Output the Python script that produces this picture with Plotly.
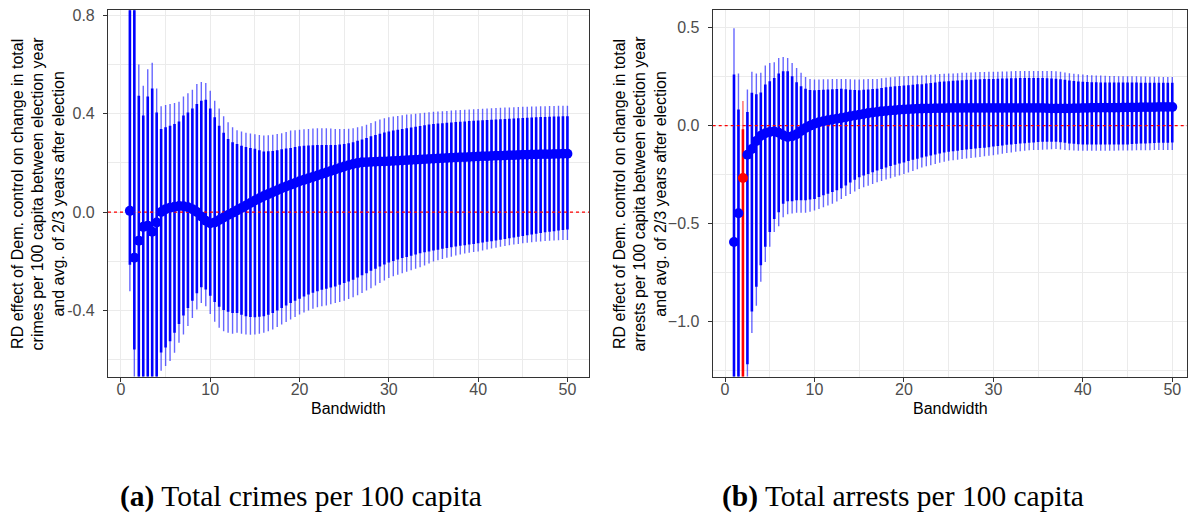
import plotly.graph_objects as go

# ---------------- data ----------------
bandwidth = [1.0, 1.5, 2.0, 2.5, 3.0, 3.5, 4.0, 4.5, 5.0, 5.5, 6.0, 6.5, 7.0, 7.5, 8.0, 8.5, 9.0, 9.5, 10.0, 10.5,
             11.0, 11.5, 12.0, 12.5, 13.0, 13.5, 14.0, 14.5, 15.0, 15.5, 16.0, 16.5, 17.0, 17.5, 18.0, 18.5, 19.0, 19.5, 20.0, 20.5,
             21.0, 21.5, 22.0, 22.5, 23.0, 23.5, 24.0, 24.5, 25.0, 25.5, 26.0, 26.5, 27.0, 27.5, 28.0, 28.5, 29.0, 29.5, 30.0, 30.5,
             31.0, 31.5, 32.0, 32.5, 33.0, 33.5, 34.0, 34.5, 35.0, 35.5, 36.0, 36.5, 37.0, 37.5, 38.0, 38.5, 39.0, 39.5, 40.0, 40.5,
             41.0, 41.5, 42.0, 42.5, 43.0, 43.5, 44.0, 44.5, 45.0, 45.5, 46.0, 46.5, 47.0, 47.5, 48.0, 48.5, 49.0, 49.5, 50.0]

# Panel (a): total crimes per 100 capita
est_a = [0.005, -0.185, -0.116, -0.06, -0.055, -0.08, -0.042, 0.0, 0.012, 0.018, 0.022, 0.025, 0.024, 0.02, 0.012, 0.0, -0.018, -0.035, -0.045, -0.042,
         -0.032, -0.022, -0.012, -0.003, 0.007, 0.017, 0.027, 0.037, 0.047, 0.056, 0.065, 0.073, 0.081, 0.089, 0.097, 0.104, 0.111, 0.118, 0.125, 0.131,
         0.137, 0.143, 0.149, 0.155, 0.161, 0.167, 0.173, 0.179, 0.185, 0.19, 0.195, 0.199, 0.202, 0.203, 0.204, 0.205, 0.206, 0.206, 0.207, 0.208,
         0.209, 0.21, 0.211, 0.212, 0.213, 0.214, 0.215, 0.216, 0.217, 0.218, 0.219, 0.22, 0.221, 0.222, 0.223, 0.223, 0.224, 0.225, 0.226, 0.227,
         0.227, 0.228, 0.229, 0.229, 0.23, 0.231, 0.231, 0.232, 0.233, 0.233, 0.234, 0.234, 0.235, 0.235, 0.235, 0.236, 0.236, 0.237, 0.237]
hi95_a = [1.2, 1.2, 0.6, 0.513, 0.58, 0.607, 0.502, 0.43, 0.435, 0.439, 0.443, 0.448, 0.47, 0.483, 0.497, 0.52, 0.529, 0.524, 0.493, 0.452,
          0.421, 0.389, 0.365, 0.345, 0.332, 0.327, 0.322, 0.319, 0.316, 0.313, 0.311, 0.312, 0.314, 0.317, 0.32, 0.325, 0.331, 0.333, 0.335, 0.337,
          0.338, 0.34, 0.341, 0.341, 0.341, 0.34, 0.338, 0.338, 0.338, 0.339, 0.341, 0.345, 0.349, 0.355, 0.362, 0.369, 0.376, 0.381, 0.385, 0.388,
          0.39, 0.393, 0.396, 0.398, 0.4, 0.402, 0.404, 0.406, 0.408, 0.409, 0.41, 0.411, 0.413, 0.414, 0.415, 0.416, 0.417, 0.418, 0.419, 0.42,
          0.421, 0.422, 0.423, 0.424, 0.425, 0.425, 0.426, 0.427, 0.428, 0.428, 0.429, 0.429, 0.43, 0.43, 0.431, 0.431, 0.432, 0.432, 0.432]
hi90_a = [1.1, 1.1, 0.473, 0.392, 0.47, 0.502, 0.405, 0.338, 0.345, 0.351, 0.358, 0.368, 0.392, 0.405, 0.421, 0.439, 0.452, 0.456, 0.421, 0.385,
          0.351, 0.322, 0.297, 0.284, 0.277, 0.27, 0.264, 0.26, 0.257, 0.251, 0.246, 0.247, 0.248, 0.251, 0.255, 0.258, 0.26, 0.264, 0.268, 0.27,
          0.271, 0.272, 0.273, 0.273, 0.273, 0.273, 0.273, 0.275, 0.277, 0.28, 0.284, 0.29, 0.295, 0.301, 0.308, 0.313, 0.318, 0.323, 0.327, 0.331,
          0.335, 0.338, 0.341, 0.344, 0.347, 0.35, 0.353, 0.356, 0.358, 0.36, 0.361, 0.363, 0.364, 0.366, 0.367, 0.368, 0.37, 0.371, 0.372, 0.373,
          0.374, 0.375, 0.376, 0.377, 0.378, 0.379, 0.38, 0.381, 0.382, 0.383, 0.384, 0.385, 0.386, 0.386, 0.387, 0.388, 0.388, 0.389, 0.389]
lo90_a = [-0.214, -0.558, -0.8, -0.8, -0.8, -0.75, -0.7, -0.57, -0.55, -0.525, -0.49, -0.455, -0.42, -0.39, -0.36, -0.33, -0.305, -0.315, -0.34, -0.365,
          -0.385, -0.398, -0.405, -0.41, -0.41, -0.417, -0.423, -0.426, -0.427, -0.425, -0.423, -0.417, -0.41, -0.4, -0.39, -0.38, -0.369, -0.36, -0.352, -0.343,
          -0.335, -0.328, -0.322, -0.316, -0.311, -0.306, -0.302, -0.295, -0.288, -0.282, -0.275, -0.266, -0.257, -0.248, -0.238, -0.23, -0.221, -0.213, -0.205, -0.199,
          -0.193, -0.187, -0.182, -0.177, -0.172, -0.167, -0.163, -0.16, -0.156, -0.153, -0.149, -0.146, -0.143, -0.14, -0.137, -0.135, -0.132, -0.13, -0.127, -0.124,
          -0.121, -0.118, -0.115, -0.112, -0.109, -0.106, -0.103, -0.1, -0.097, -0.094, -0.091, -0.088, -0.085, -0.082, -0.08, -0.078, -0.075, -0.073, -0.071]
lo95_a = [-0.322, -0.9, -0.9, -0.9, -0.9, -0.9, -0.8, -0.645, -0.625, -0.605, -0.571, -0.531, -0.497, -0.463, -0.43, -0.396, -0.369, -0.383, -0.414, -0.446,
          -0.47, -0.484, -0.49, -0.494, -0.49, -0.494, -0.497, -0.498, -0.497, -0.494, -0.49, -0.484, -0.477, -0.467, -0.457, -0.447, -0.436, -0.426, -0.416, -0.408,
          -0.4, -0.393, -0.387, -0.383, -0.379, -0.374, -0.369, -0.365, -0.36, -0.353, -0.346, -0.338, -0.329, -0.319, -0.309, -0.298, -0.288, -0.278, -0.268, -0.261,
          -0.255, -0.248, -0.242, -0.236, -0.23, -0.224, -0.217, -0.209, -0.201, -0.196, -0.191, -0.186, -0.181, -0.176, -0.172, -0.168, -0.165, -0.162, -0.16, -0.156,
          -0.152, -0.148, -0.145, -0.141, -0.138, -0.135, -0.132, -0.13, -0.127, -0.125, -0.123, -0.121, -0.119, -0.117, -0.116, -0.115, -0.114, -0.113, -0.113]

# Panel (b): total arrests per 100 capita
est_b = [-0.595, -0.448, -0.268, -0.149, -0.12, -0.078, -0.052, -0.039, -0.032, -0.03, -0.036, -0.049, -0.058, -0.054, -0.044, -0.027, -0.012, 0.0, 0.01, 0.017,
         0.022, 0.027, 0.031, 0.035, 0.039, 0.043, 0.048, 0.052, 0.056, 0.06, 0.064, 0.067, 0.07, 0.073, 0.075, 0.077, 0.079, 0.081, 0.083, 0.084,
         0.085, 0.086, 0.087, 0.088, 0.088, 0.089, 0.089, 0.089, 0.09, 0.09, 0.09, 0.09, 0.09, 0.09, 0.09, 0.09, 0.09, 0.09, 0.09, 0.09,
         0.09, 0.09, 0.09, 0.09, 0.09, 0.09, 0.09, 0.09, 0.09, 0.09, 0.089, 0.088, 0.088, 0.088, 0.088, 0.088, 0.089, 0.089, 0.09, 0.09,
         0.091, 0.091, 0.091, 0.092, 0.092, 0.092, 0.092, 0.093, 0.093, 0.093, 0.093, 0.094, 0.094, 0.094, 0.094, 0.095, 0.095, 0.095, 0.095]
hi95_b = [0.498, 0.266, 0.126, 0.185, 0.275, 0.266, 0.27, 0.307, 0.32, 0.324, 0.346, 0.351, 0.346, 0.32, 0.295, 0.27, 0.249, 0.239, 0.236, 0.236,
          0.237, 0.237, 0.238, 0.238, 0.239, 0.238, 0.237, 0.236, 0.236, 0.237, 0.238, 0.239, 0.239, 0.242, 0.245, 0.248, 0.25, 0.252, 0.253, 0.254,
          0.255, 0.256, 0.256, 0.258, 0.26, 0.262, 0.264, 0.265, 0.266, 0.267, 0.268, 0.27, 0.271, 0.272, 0.273, 0.274, 0.274, 0.275, 0.275, 0.276,
          0.277, 0.277, 0.278, 0.279, 0.279, 0.28, 0.28, 0.28, 0.28, 0.28, 0.28, 0.279, 0.278, 0.275, 0.272, 0.268, 0.265, 0.263, 0.261, 0.259,
          0.258, 0.257, 0.256, 0.255, 0.254, 0.254, 0.253, 0.253, 0.253, 0.252, 0.252, 0.251, 0.251, 0.25, 0.25, 0.25, 0.249, 0.249, 0.249]
hi90_b = [0.261, 0.083, -0.019, 0.07, 0.168, 0.16, 0.17, 0.21, 0.227, 0.244, 0.266, 0.278, 0.278, 0.253, 0.222, 0.202, 0.188, 0.182, 0.181, 0.182,
          0.183, 0.185, 0.186, 0.187, 0.188, 0.186, 0.184, 0.182, 0.181, 0.183, 0.185, 0.187, 0.188, 0.192, 0.196, 0.199, 0.201, 0.203, 0.205, 0.207,
          0.209, 0.211, 0.212, 0.215, 0.218, 0.221, 0.224, 0.226, 0.227, 0.229, 0.231, 0.232, 0.234, 0.235, 0.236, 0.237, 0.238, 0.238, 0.239, 0.24,
          0.241, 0.241, 0.242, 0.242, 0.243, 0.243, 0.243, 0.243, 0.243, 0.243, 0.242, 0.241, 0.24, 0.237, 0.234, 0.231, 0.228, 0.226, 0.224, 0.223,
          0.222, 0.222, 0.221, 0.221, 0.221, 0.22, 0.22, 0.22, 0.22, 0.22, 0.22, 0.219, 0.219, 0.219, 0.219, 0.219, 0.219, 0.219, 0.219]
lo90_b = [-2.0, -2.0, -2.0, -1.22, -0.951, -0.824, -0.714, -0.62, -0.544, -0.477, -0.443, -0.4, -0.387, -0.387, -0.382, -0.382, -0.382, -0.378, -0.375, -0.365,
          -0.356, -0.348, -0.34, -0.33, -0.32, -0.306, -0.291, -0.277, -0.264, -0.255, -0.247, -0.238, -0.23, -0.222, -0.214, -0.206, -0.2, -0.194, -0.188, -0.181,
          -0.175, -0.169, -0.163, -0.158, -0.153, -0.148, -0.143, -0.138, -0.134, -0.131, -0.128, -0.125, -0.122, -0.12, -0.117, -0.115, -0.113, -0.11, -0.107, -0.104,
          -0.101, -0.098, -0.096, -0.094, -0.092, -0.09, -0.088, -0.086, -0.084, -0.083, -0.082, -0.082, -0.082, -0.085, -0.088, -0.091, -0.093, -0.095, -0.096, -0.096,
          -0.096, -0.096, -0.096, -0.096, -0.096, -0.096, -0.096, -0.096, -0.096, -0.094, -0.093, -0.092, -0.091, -0.09, -0.089, -0.088, -0.087, -0.087, -0.086]
lo95_b = [-2.0, -2.0, -2.0, -1.5, -1.06, -0.921, -0.799, -0.697, -0.62, -0.544, -0.514, -0.468, -0.453, -0.45, -0.446, -0.446, -0.446, -0.44, -0.434, -0.426,
          -0.417, -0.408, -0.4, -0.388, -0.375, -0.36, -0.35, -0.337, -0.324, -0.315, -0.307, -0.298, -0.29, -0.283, -0.276, -0.269, -0.262, -0.255, -0.248, -0.24,
          -0.232, -0.223, -0.214, -0.208, -0.202, -0.196, -0.19, -0.185, -0.18, -0.177, -0.174, -0.171, -0.168, -0.166, -0.163, -0.16, -0.157, -0.154, -0.151, -0.148,
          -0.144, -0.14, -0.137, -0.134, -0.131, -0.128, -0.126, -0.125, -0.124, -0.123, -0.122, -0.121, -0.12, -0.122, -0.124, -0.126, -0.127, -0.128, -0.129, -0.129,
          -0.129, -0.129, -0.128, -0.128, -0.128, -0.128, -0.127, -0.127, -0.127, -0.127, -0.126, -0.126, -0.126, -0.126, -0.125, -0.125, -0.125, -0.125, -0.125]

# bandwidths whose estimate is highlighted in red (panel b)
highlight_b = [2.0]

x_ticks = [0, 10, 20, 30, 40, 50]
y_ticks_a = [-0.4, 0.0, 0.4, 0.8]
y_ticklabels_a = ["-0.4", "0.0", "0.4", "0.8"]
y_ticks_b = [-1.0, -0.5, 0.0, 0.5]
y_ticklabels_b = ["\u22121.0", "\u22120.5", "0.0", "0.5"]

ytitle_a = "RD effect of Dem. control on change in total<br>crimes per 100 capita between election year<br>and avg. of 2/3 years after election"
ytitle_b = "RD effect of Dem. control on change in total<br>arrests per 100 capita between election year<br>and avg. of 2/3 years after election"
caption_a = "<b>(a)</b> Total crimes per 100 capita"
caption_b = "<b>(b)</b> Total arrests per 100 capita"

# ---------------- figure ----------------
W, H = 1188, 514
BLUE = "#0000FF"
BLUE_LIGHT = "rgba(0,0,255,0.6)"
RED = "#FF0000"
RED_LIGHT = "rgba(255,0,0,0.6)"
xrange_a = [-1.45, 52.45]
xrange_b = [-1.38, 51.68]


def segs(xs, lo, hi):
    sx, sy = [], []
    for x, l, h in zip(xs, lo, hi):
        sx += [x, x, None]
        sy += [l, h, None]
    return sx, sy


fig = go.Figure()


def add_panel(xa, ya, xr, est, lo95, hi95, lo90, hi90, highlight):
    normal = [i for i, b in enumerate(bandwidth) if b not in highlight]
    hl = [i for i, b in enumerate(bandwidth) if b in highlight]
    for idx, c_light, c_full in ((normal, BLUE_LIGHT, BLUE), (hl, RED_LIGHT, RED)):
        if not idx:
            continue
        bx = [bandwidth[i] for i in idx]
        sx, sy = segs(bx, [lo95[i] for i in idx], [hi95[i] for i in idx])
        fig.add_trace(go.Scatter(x=sx, y=sy, mode="lines", xaxis=xa, yaxis=ya,
                                 line=dict(color=c_light, width=1.4), hoverinfo="skip", showlegend=False))
        sx, sy = segs(bx, [lo90[i] for i in idx], [hi90[i] for i in idx])
        fig.add_trace(go.Scatter(x=sx, y=sy, mode="lines", xaxis=xa, yaxis=ya,
                                 line=dict(color=c_full, width=2.6), hoverinfo="skip", showlegend=False))
    # zero reference line (dotted red), beneath the point estimates
    fig.add_trace(go.Scatter(x=xr, y=[0, 0], mode="lines", xaxis=xa, yaxis=ya,
                             line=dict(color=RED, width=1.2, dash="dot"), hoverinfo="skip", showlegend=False))
    for idx, col in ((normal, BLUE), (hl, RED)):
        if not idx:
            continue
        fig.add_trace(go.Scatter(x=[bandwidth[i] for i in idx], y=[est[i] for i in idx], mode="markers",
                                 xaxis=xa, yaxis=ya, marker=dict(color=col, size=10, line=dict(width=0)),
                                 showlegend=False))


add_panel("x", "y", xrange_a, est_a, lo95_a, hi95_a, lo90_a, hi90_a, [])
add_panel("x2", "y2", xrange_b, est_b, lo95_b, hi95_b, lo90_b, hi90_b, highlight_b)

ydom = [1 - 375.7 / H, 1 - 7.3 / H]
grid = "#EBEBEB"
tickfont = dict(family="Liberation Sans, Arial, sans-serif", size=16, color="#4D4D4D")
axis_common = dict(showline=True, linecolor="#333333", linewidth=1.1, mirror=True,
                   ticks="outside", ticklen=4, tickcolor="#333333", tickwidth=1,
                   showgrid=True, gridcolor=grid, gridwidth=1.1, zeroline=False, tickfont=tickfont)


def xaxis(domain, rng, anchor):
    d = dict(axis_common)
    d.update(domain=domain, range=rng, anchor=anchor, tickmode="array", tickvals=x_ticks,
             ticklabelstandoff=-6,
             minor=dict(tickvals=[5, 15, 25, 35, 45], showgrid=True, gridcolor=grid, gridwidth=0.6, ticklen=0))
    return d


def yaxis(rng, anchor, tv, tt, minor):
    d = dict(axis_common)
    d.update(domain=ydom, range=rng, anchor=anchor, tickmode="array", tickvals=tv, ticktext=tt,
             ticklabelstandoff=5,
             minor=dict(tickvals=minor, showgrid=True, gridcolor=grid, gridwidth=0.6, ticklen=0))
    return d


fig.update_layout(
    width=W, height=H, margin=dict(l=0, r=0, t=0, b=0),
    paper_bgcolor="white", plot_bgcolor="white",
    xaxis=xaxis([108 / W, 589.3 / W], xrange_a, "y"),
    yaxis=yaxis([-0.668, 0.82], "x", y_ticks_a, y_ticklabels_a, [-0.6, -0.2, 0.2, 0.6]),
    xaxis2=xaxis([712.7 / W, 1187.3 / W], xrange_b, "y2"),
    yaxis2=yaxis([-1.283, 0.59], "x2", y_ticks_b, y_ticklabels_b, [-1.25, -0.75, -0.25, 0.25]),
    showlegend=False,
)

font_sans = "Liberation Sans, Arial, sans-serif"
ymid = 1 - (7.3 + 375.7) / 2 / H
annots = [
    dict(text=ytitle_a, x=38 / W, y=ymid, textangle=-90),
    dict(text=ytitle_b, x=640 / W, y=ymid, textangle=-90),
    dict(text="Bandwidth", x=348.6 / W, y=1 - 408 / H, textangle=0),
    dict(text="Bandwidth", x=950 / W, y=1 - 408 / H, textangle=0),
]
for a in annots:
    fig.add_annotation(xref="paper", yref="paper", xanchor="center", yanchor="middle", showarrow=False,
                       font=dict(family=font_sans, size=16, color="black"), **a)

for txt, xc in ((caption_a, 301), (caption_b, 903)):
    fig.add_annotation(text=txt, xref="paper", yref="paper", x=xc / W, y=1 - 496 / H,
                       xanchor="center", yanchor="middle", showarrow=False,
                       font=dict(family="Liberation Serif, Times New Roman, serif", size=29.5, color="black"))

fig.write_html("out.html")
